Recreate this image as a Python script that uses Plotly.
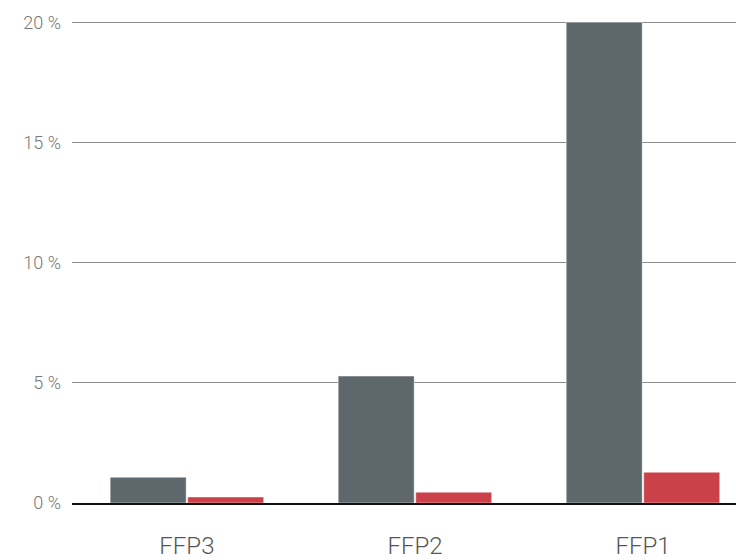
import plotly.graph_objects as go

categories = ["FFP3", "FFP2", "FFP1"]
series_grey = [1.07, 5.28, 20.0]
series_red = [0.25, 0.45, 1.28]
y_ticks = [0, 5, 10, 15, 20]
y_tick_labels = ["0 %", "5 %", "10 %", "15 %", "20 %"]

fig = go.Figure()
fig.add_trace(go.Bar(x=categories, y=series_grey, marker=dict(color="#5e676c", line=dict(color="rgba(255,255,255,0.45)", width=1)), showlegend=False))
fig.add_trace(go.Bar(x=categories, y=series_red, marker=dict(color="#cc4049", line=dict(color="rgba(255,255,255,0.45)", width=1)), showlegend=False))

fig.update_layout(
    width=736, height=560,
    margin=dict(l=72, r=0, t=15, b=53),
    plot_bgcolor="white", paper_bgcolor="white",
    barmode="group", bargap=0.32, bargroupgap=0.02,
    font=dict(family="Roboto", weight=300),
    xaxis=dict(
        type="category", range=[-0.504, 2.408],
        showgrid=False, showline=True, linecolor="#111", linewidth=1.5,
        ticks="", ticklabelstandoff=20,
        tickfont=dict(size=24, color="#555555", family="Roboto", weight=300),
        layer="above traces",
    ),
    yaxis=dict(
        range=[0, 20.3], tickvals=y_ticks, ticktext=y_tick_labels,
        showgrid=True, gridcolor="rgba(0,0,0,0.45)", gridwidth=1,
        zeroline=False, showline=False, ticks="",
        ticklabelstandoff=10,
        tickfont=dict(size=18, color="#777777", family="Roboto", weight=300),
        layer="above traces",
    ),
)

fig.write_html(
    "out.html",
    config={"displayModeBar": False},
    post_script="document.body.style.margin='0';document.body.style.overflow='hidden';",
)
